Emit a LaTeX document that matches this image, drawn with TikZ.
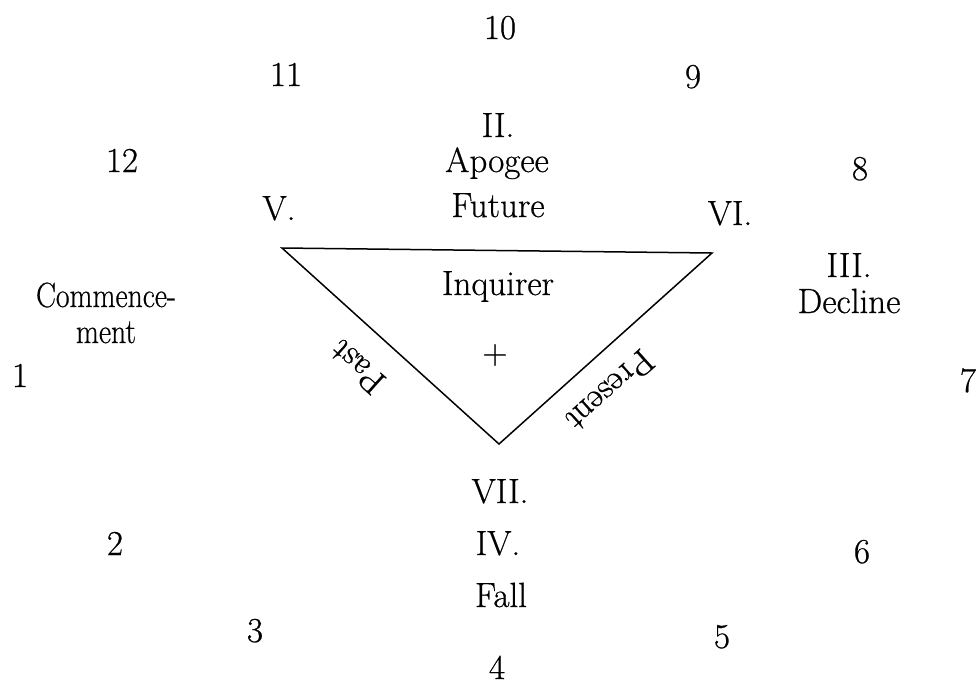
\documentclass[tikz,border=0pt]{standalone}
\usepackage{fontspec}
\setmainfont{Latin Modern Roman}[FakeBold=0.6]
\begin{document}
\begin{tikzpicture}[x=1pt,y=-1pt,
  lab/.style={anchor=base, inner sep=0pt, font=\fontsize{35}{40}\selectfont},
  slab/.style={anchor=center, inner sep=0pt, font=\fontsize{35}{40}\selectfont},
  edge/.style={line width=1.5pt, line join=miter}]
\useasboundingbox (0,0) rectangle (977,686);
% triangle corners
\coordinate (tl) at (282,248);
\coordinate (tr) at (712,253);
\coordinate (bt) at (499,444);
\draw[edge] (tl) -- (tr) -- (bt) -- cycle;
% house numbers
\node[lab] (h10) at (500,39) {10};
\node[lab] (h11) at (286,86) {11};
\node[lab] (h9) at (693,88) {9};
\node[lab] (h12) at (122,172) {12};
\node[lab] (h8) at (860,180) {8};
\node[lab] (h1) at (20,387) {1};
\node[lab] (h7) at (968,392) {7};
\node[lab] (h2) at (115,555) {2};
\node[lab] (h6) at (862,563) {6};
\node[lab] (h3) at (255,642) {3};
\node[lab] (h5) at (722,648) {5};
\node[lab] (h4) at (497,679) {4};
% labels
\node[lab] (ii) at (498,137) {II.};
\node[lab] (apogee) at (497,172) {Apogee};
\node[lab] (future) at (498,217) {Future};
\node[lab] (v) at (279,220) {V.};
\node[lab] (vi) at (730,225) {VI.};
\node[lab] (iii) at (849,277) {III.};
\node[lab] (decline) at (849,313) {Decline};
\node[lab] (comm) at (106,307) {\scalebox{0.85}[1]{Commence-}};
\node[lab] (ment) at (106,343) {\scalebox{0.85}[1]{ment}};
\node[lab] (inq) at (498,295) {Inquirer};
\node[slab] (plus) at (495,355) {+};
\node[slab, rotate=137.9] (past) at (357,367) {Past};
\node[slab, rotate=221.9] (present) at (610,391) {Present};
\node[lab] (vii) at (500,503) {VII.};
\node[lab] (iv) at (498,555) {IV.};
\node[lab] (fall) at (501,607) {Fall};
\end{tikzpicture}
\end{document}
